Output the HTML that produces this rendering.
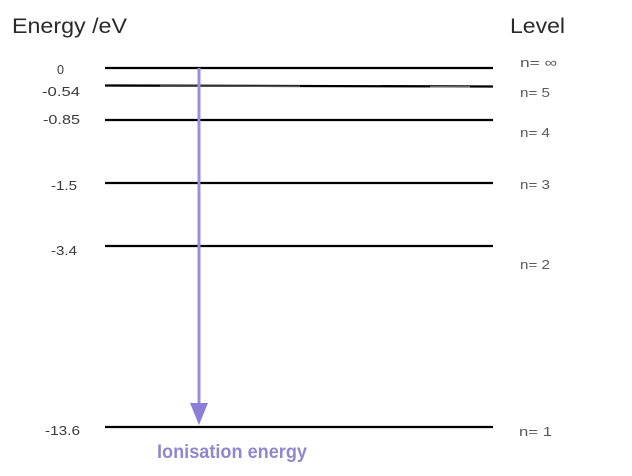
<!DOCTYPE html>
<html>
<head>
<meta charset="utf-8">
<style>
html,body{margin:0;padding:0;background:#fff;}
svg{display:block;}
text{font-family:"Liberation Sans",Arial,sans-serif;}
</style>
</head>
<body>
<svg width="632" height="476" viewBox="0 0 632 476" xmlns="http://www.w3.org/2000/svg">
  <rect width="632" height="476" fill="#fff"/>
  <!-- headers -->
  <text x="12" y="33" font-size="21" fill="#2a2a2a" textLength="115" lengthAdjust="spacingAndGlyphs">Energy /eV</text>
  <text x="510" y="33" font-size="21" fill="#2a2a2a" textLength="55" lengthAdjust="spacingAndGlyphs">Level</text>

  <!-- energy levels -->
  <g stroke="#000" stroke-width="2.3">
    <line x1="105" y1="68" x2="493" y2="68"/>
    <line x1="105" y1="85.5" x2="493" y2="86.5"/>
    <line x1="105" y1="120" x2="493" y2="120"/>
    <line x1="105" y1="183" x2="493" y2="183"/>
    <line x1="105" y1="246" x2="493" y2="246"/>
    <line x1="105" y1="427" x2="493" y2="427"/>
  </g>
  <line x1="160" y1="86" x2="300" y2="86.3" stroke="#555" stroke-width="1.5"/>
  <line x1="430" y1="86.7" x2="470" y2="86.8" stroke="#666" stroke-width="1.5"/>

  <!-- left labels -->
  <g font-size="12.5" fill="#3a3a3a">
    <text x="57" y="74" textLength="7" lengthAdjust="spacingAndGlyphs">0</text>
    <text x="42" y="96" textLength="38" lengthAdjust="spacingAndGlyphs">-0.54</text>
    <text x="43" y="124" textLength="37" lengthAdjust="spacingAndGlyphs">-0.85</text>
    <text x="51" y="190" textLength="26" lengthAdjust="spacingAndGlyphs">-1.5</text>
    <text x="51" y="255" textLength="26" lengthAdjust="spacingAndGlyphs">-3.4</text>
    <text x="45" y="435" textLength="35" lengthAdjust="spacingAndGlyphs">-13.6</text>
  </g>

  <!-- right labels -->
  <g font-size="13" fill="#5a5a5a">
    <text x="520" y="67" textLength="37" lengthAdjust="spacingAndGlyphs">n= ∞</text>
    <text x="520" y="97" textLength="30" lengthAdjust="spacingAndGlyphs">n= 5</text>
    <text x="520" y="137" textLength="30" lengthAdjust="spacingAndGlyphs">n= 4</text>
    <text x="520" y="189" textLength="30" lengthAdjust="spacingAndGlyphs">n= 3</text>
    <text x="520" y="269" textLength="30" lengthAdjust="spacingAndGlyphs">n= 2</text>
    <text x="519" y="436" textLength="33" lengthAdjust="spacingAndGlyphs">n= 1</text>
  </g>

  <!-- arrow -->
  <line x1="199" y1="68" x2="199" y2="406" stroke="#9a8fdc" stroke-width="3"/>
  <polygon points="190,403 208,403 199,425" fill="#8b7ed6"/>

  <text x="157" y="458" font-size="19" font-weight="bold" fill="#9088cc" textLength="150" lengthAdjust="spacingAndGlyphs">Ionisation energy</text>
</svg>
</body>
</html>
